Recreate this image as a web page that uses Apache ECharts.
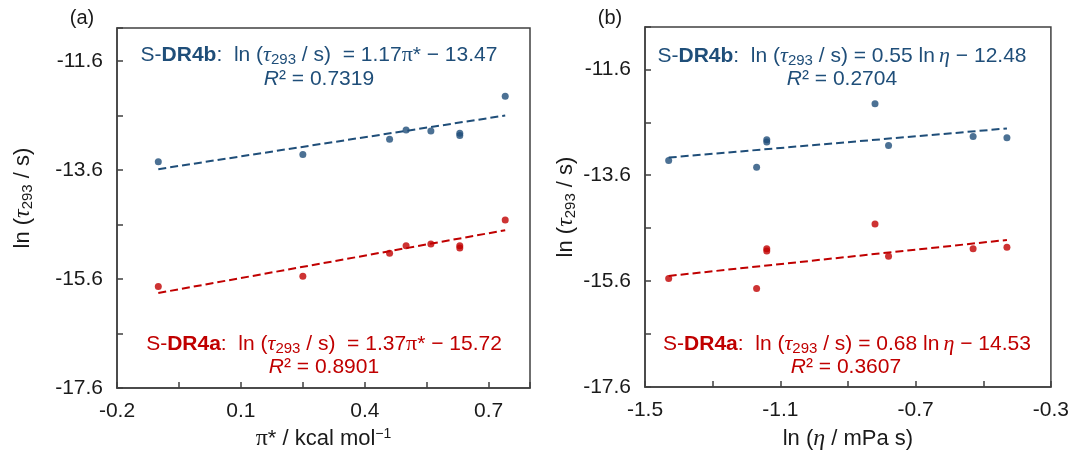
<!DOCTYPE html>
<html>
<head>
<meta charset="utf-8">
<script src="https://cdn.jsdelivr.net/npm/echarts@6/dist/echarts.min.js"></script>
<style>
  html, body { margin: 0; background: #fff; }
  #chart { width: 1072px; height: 456px; }
</style>
</head>
<body>
<div id="chart"></div>
<script>
// one entry per solvent, same order in every array
const piStar = [-0.10, 0.25, 0.46, 0.50, 0.56, 0.63, 0.63, 0.74]
const lnEta  = [-1.17, -1.43, -0.78, -0.53, -0.43, -1.14, -1.14, -0.82]
const lnTauB = [-13.45, -13.32, -13.04, -12.87, -12.89, -12.93, -12.97, -12.25]
const lnTauA = [-15.74, -15.55, -15.13, -14.99, -14.96, -14.99, -15.03, -14.52]

// linear fits [slope, intercept]
const fitPiB  = [1.17, -13.47]
const fitPiA  = [1.37, -15.72]
const fitEtaB = [0.55, -12.48]
const fitEtaA = [0.68, -14.53]
const r2Text  = ['0.7319', '0.8901', '0.2704', '0.3607']

const BLUE = '#1F4E79'
const RED = '#C00000'
const AXIS = '#404040'
const INK = '#1a1a1a'
const SANS = '"Liberation Sans", Arial, sans-serif'
const SERIF = '"Liberation Serif", "Times New Roman", serif'

const pairs = (xs, ys) => xs.map((x, i) => [x, ys[i]])
function fitLine(xs, fit) {
  const lo = Math.min(...xs), hi = Math.max(...xs)
  return [[lo, fit[0] * lo + fit[1]], [hi, fit[0] * hi + fit[1]]]
}
// show a label only every `step` counted from min
function everyOther(min, step, last) {
  return v => {
    const k = (v - min) / step
    if (Math.abs(k - Math.round(k)) > 1e-6 || v > last + 1e-6) return ''
    return v.toFixed(1)
  }
}

const nameRich = {
  n: { fontSize: 22, fontFamily: SANS, color: INK },
  t: { fontSize: 24, fontFamily: SERIF, fontStyle: 'italic', color: INK },
  p: { fontSize: 24, fontFamily: SERIF, color: INK },
  s: { fontSize: 15, fontFamily: SANS, color: INK, padding: [10, 0, 0, 0] },
  u: { fontSize: 14, fontFamily: SANS, color: INK, padding: [0, 0, 10, 0] }
}
const eqRich = {
  n: { fontSize: 21, fontFamily: SANS },
  b: { fontSize: 21, fontFamily: SANS, fontWeight: 'bold' },
  t: { fontSize: 22, fontFamily: SERIF, fontStyle: 'italic' },
  p: { fontSize: 22, fontFamily: SERIF },
  i: { fontSize: 21, fontFamily: SANS, fontStyle: 'italic' },
  s: { fontSize: 15, fontFamily: SANS, padding: [9, 0, 0, 0] }
}

function xAxisCfg(idx, min, max, interval, labelStep, lastLabel, name, gap) {
  return {
    type: 'value', gridIndex: idx, min, max, interval,
    name, nameLocation: 'middle', nameGap: gap,
    nameTextStyle: { rich: nameRich },
    axisLine: { onZero: false, lineStyle: { color: AXIS, width: 1.5 } },
    axisTick: { inside: true, length: 6, lineStyle: { color: AXIS, width: 1.5 } },
    axisLabel: { color: INK, fontSize: 21, fontFamily: SANS, margin: 13,
      formatter: everyOther(min, labelStep, lastLabel) },
    splitLine: { show: false }
  }
}
function yAxisCfg(idx, max, gap, pad) {
  return {
    type: 'value', gridIndex: idx, min: -17.6, max, interval: 1,
    name: '{n|ln (}{t|τ}{s|293}{n| / s)}', nameLocation: 'middle', nameGap: gap,
    nameTextStyle: { rich: nameRich, padding: pad },
    axisLine: { onZero: false, lineStyle: { color: AXIS, width: 1.5 } },
    axisTick: { inside: true, length: 6, lineStyle: { color: AXIS, width: 1.5 } },
    axisLabel: { color: INK, fontSize: 21, fontFamily: SANS, margin: 14,
      formatter: everyOther(-17.6, 2, -11.6) },
    splitLine: { show: false }
  }
}
function dots(idx, data, color) {
  return { type: 'scatter', xAxisIndex: idx, yAxisIndex: idx, data, symbolSize: 7,
    itemStyle: { color }, z: 3, silent: true }
}
function dashed(idx, data, color) {
  return { type: 'line', xAxisIndex: idx, yAxisIndex: idx, data, symbol: 'none',
    lineStyle: { color, width: 2, type: [8, 4] }, z: 2, silent: true }
}
function txt(x, y, text, color) {
  return { type: 'text', x, y, z: 10,
    style: { text, rich: eqRich, fill: color, align: 'center', verticalAlign: 'middle',
      fontSize: 21, fontFamily: SANS } }
}

const chart = echarts.init(document.getElementById('chart'))
chart.setOption({
  backgroundColor: '#fff',
  animation: false,
  grid: [
    { left: 117, top: 28, width: 413, height: 362, show: true, borderColor: AXIS, borderWidth: 1.5 },
    { left: 645, top: 27, width: 407, height: 366, show: true, borderColor: AXIS, borderWidth: 1.5 }
  ],
  xAxis: [
    xAxisCfg(0, -0.2, 0.8, 0.15, 0.3, 0.7, '{p|π}{n|* / kcal mol}{u|−1}', 33),
    xAxisCfg(1, -1.5, -0.3, 0.2, 0.4, -0.3, '{n|ln (}{t|η}{n| / mPa s)}', 40)
  ],
  yAxis: [
    yAxisCfg(0, -11.0, 82, [0, 0, 0, 20]),
    yAxisCfg(1, -10.8, 67, 0)
  ],
  series: [
    dashed(0, fitLine(piStar, fitPiB), BLUE),
    dashed(0, fitLine(piStar, fitPiA), RED),
    dots(0, pairs(piStar, lnTauB), BLUE),
    dots(0, pairs(piStar, lnTauA), RED),
    dashed(1, fitLine(lnEta, fitEtaB), BLUE),
    dashed(1, fitLine(lnEta, fitEtaA), RED),
    dots(1, pairs(lnEta, lnTauB), BLUE),
    dots(1, pairs(lnEta, lnTauA), RED)
  ],
  graphic: [
    { type: 'text', x: 82, y: 18, style: { text: '(a)', fontSize: 20, fontFamily: SANS, fill: INK, align: 'center', verticalAlign: 'middle' } },
    { type: 'text', x: 610, y: 18, style: { text: '(b)', fontSize: 20, fontFamily: SANS, fill: INK, align: 'center', verticalAlign: 'middle' } },
    txt(319, 55, '{n|S-}{b|DR4b}{n|:  ln (}{t|τ}{s|293}{n| / s)  = ' + fitPiB[0] + '}{p|π}{n|* − ' + (-fitPiB[1]).toFixed(2) + '}', BLUE),
    txt(319, 79, '{i|R}{n|² = ' + r2Text[0] + '}', BLUE),
    txt(324, 344, '{n|S-}{b|DR4a}{n|:  ln (}{t|τ}{s|293}{n| / s)  = ' + fitPiA[0] + '}{p|π}{n|* − ' + (-fitPiA[1]).toFixed(2) + '}', RED),
    txt(324, 367, '{i|R}{n|² = ' + r2Text[1] + '}', RED),
    txt(842, 56, '{n|S-}{b|DR4b}{n|:  ln (}{t|τ}{s|293}{n| / s) = ' + fitEtaB[0] + ' ln\u2009}{t|η}{n| − ' + (-fitEtaB[1]).toFixed(2) + '}', BLUE),
    txt(842, 79, '{i|R}{n|² = ' + r2Text[2] + '}', BLUE),
    txt(847, 344, '{n|S-}{b|DR4a}{n|:  ln (}{t|τ}{s|293}{n| / s) = ' + fitEtaA[0] + ' ln\u2009}{t|η}{n| − ' + (-fitEtaA[1]).toFixed(2) + '}', RED),
    txt(846, 367, '{i|R}{n|² = ' + r2Text[3] + '}', RED)
  ]
})
</script>
</body>
</html>
